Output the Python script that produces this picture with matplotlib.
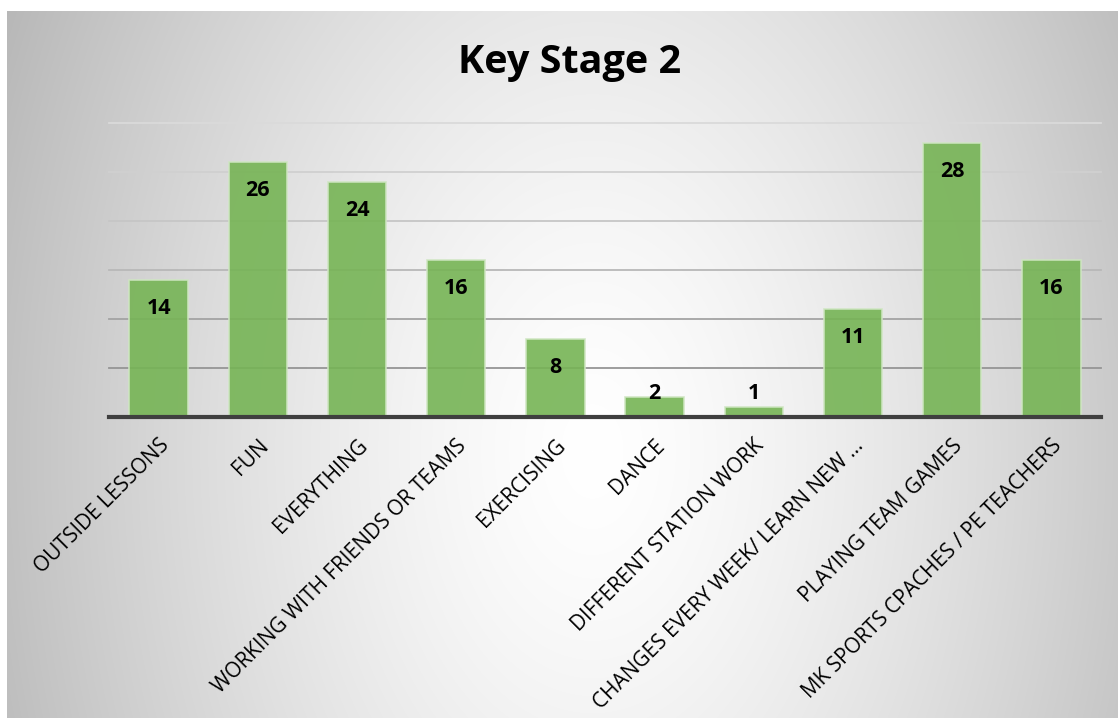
import numpy as np
import matplotlib.pyplot as plt

categories = ["OUTSIDE LESSONS", "FUN", "EVERYTHING", "WORKING WITH FRIENDS OR TEAMS",
              "EXERCISING", "DANCE", "DIFFERENT STATION WORK",
              "CHANGES EVERY WEEK/ LEARN NEW ...", "PLAYING TEAM GAMES",
              "MK SPORTS CPACHES / PE TEACHERS"]
counts = [14, 26, 24, 16, 8, 2, 1, 11, 28, 16]
grid_levels = [5, 10, 15, 20, 25, 30]

W, H = 1118, 718
fig = plt.figure(figsize=(W / 100, H / 100), dpi=100)
fig.patch.set_facecolor("white")

# radial grey gradient behind the chart
bg = fig.add_axes([7 / W, 0, 1 - 7 / W, (H - 11) / H])
ys, xs = np.mgrid[0:707, 0:1111]
d = np.sqrt(((xs - 585) / 590.0) ** 2 + ((ys - 440) / 900.0) ** 2)
val = 255 - 62 * np.clip(d, 0, 1.2) ** 1.4
img = np.dstack([val, val, val]).astype(np.uint8)
bg.imshow(img, aspect="auto", interpolation="bilinear")
bg.axis("off")

ax = fig.add_axes([109 / W, (H - 417) / H, 992 / W, (417 - 123) / H])
ax.set_facecolor("none")
ax.set_xlim(-0.5, len(categories) - 0.5)
ax.set_ylim(0, 30)

grid_colors = ["#959595", "#a3a3a3", "#b8b8b8", "#c6c6c6", "#d0d0d0", "#dadada"]
for lvl, c in zip(grid_levels, grid_colors):
    ax.axhline(lvl, color=c, lw=1.3, zorder=1, clip_on=False)

x = np.arange(len(categories))
ax.bar(x, counts, width=0.59, color="#76b455", alpha=0.9,
       edgecolor="#cfe6c2", linewidth=1.2, zorder=2)
ax.axhline(0, color="#3f3f3f", lw=3, zorder=3, clip_on=False)

# labels sit inside the bar top, small bars get pushed up above
for xi, v in zip(x, counts):
    ax.text(xi, max(v - 2.9, 2.35), str(v), ha="center", va="center",
            fontsize=15.5, fontweight="bold", color="black", family="Open Sans", zorder=4)

ax.set_xticks(x)
ax.set_xticklabels(categories, rotation=45, ha="right", rotation_mode="anchor",
                   fontsize=15, family="Open Sans")
ax.tick_params(axis="x", length=0, pad=13)
ax.set_yticks([])
for s in ax.spines.values():
    s.set_visible(False)

fig.text(570 / W, 1 - 62 / H, "Key Stage 2", ha="center", va="center",
         fontsize=28.5, fontweight="bold", family="Open Sans")

fig.savefig("out.png", dpi=100)
